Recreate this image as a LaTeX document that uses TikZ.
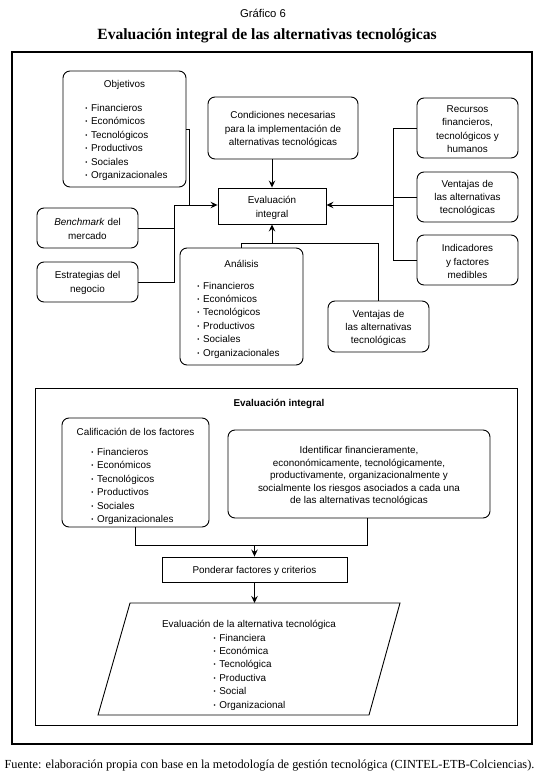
\documentclass[tikz,border=0pt]{standalone}
\usepackage{fontspec}
\setmainfont{Liberation Serif}
\setsansfont{Liberation Sans}
\usetikzlibrary{arrows.meta,calc}
\newcommand{\bu}{\makebox[0.58em][l]{\raisebox{0.1em}{\fontsize{6}{6}\selectfont\textbullet}}}
\tikzset{
  rbox/.style={draw, line width=0.9pt, rounded corners=7pt, inner sep=0pt},
  sbox/.style={draw, line width=0.9pt, inner sep=0pt},
  txt/.style={font=\sffamily\fontsize{9.9}{13.4}\selectfont, align=center, inner sep=0pt},
  txtb/.style={font=\sffamily\fontsize{9.9}{12.5}\selectfont, align=center, inner sep=0pt},
  lst/.style={font=\sffamily\fontsize{9.9}{13.4}\selectfont, align=left, inner sep=0pt},
  con/.style={line width=0.9pt},
  arr/.style={con, -{Stealth[length=7pt,width=6.5pt,inset=2.4pt]}},
}
\begin{document}
\begin{tikzpicture}[x=1pt,y=-1pt]
\useasboundingbox (0,0) rectangle (541,783);
% titles
\node[font=\sffamily\fontsize{11.3}{13}\selectfont, inner sep=0pt] (g6) at (263,13) {Gráfico 6};
\node[font=\rmfamily\bfseries\fontsize{15.6}{18}\selectfont, inner sep=0pt] (ttl) at (267,36) {Evaluación integral de las alternativas tecnológicas};
% outer frame
\node[draw, line width=2.5pt, minimum width=520pt, minimum height=692pt, inner sep=0pt] (outer) at (272,398) {};
% top part boxes
\node[rbox, minimum width=123pt, minimum height=116pt] (obj) at (124.5,129) {};
\node[txt] (objt) at (124.5,85) {Objetivos};
\node[lst] (objl) at (126.5,142.5) {\bu Financieros\\\bu Económicos\\\bu Tecnológicos\\\bu Productivos\\\bu Sociales\\\bu Organizacionales};

\node[rbox, minimum width=150pt, minimum height=62pt] (cond) at (283,128) {};
\node[txt] (condt) at (283,129.5) {Condiciones necesarias\\para la implementación de\\alternativas tecnológicas};

\node[sbox, minimum width=108pt, minimum height=36pt] (eval) at (272,206) {};
\node[txt] (evalt) at (272,208) {Evaluación\\integral};

\node[rbox, minimum width=101pt, minimum height=40pt] (bench) at (87.5,228) {};
\node[txt] (bencht) at (87.5,229) {\textit{Benchmark} del\\mercado};

\node[rbox, minimum width=101pt, minimum height=40pt] (strat) at (87.5,282) {};
\node[txt] (stratt) at (87.5,283) {Estrategias del\\negocio};

\node[rbox, minimum width=101pt, minimum height=60pt] (rec) at (467.5,128) {};
\node[txt] (rect) at (467.5,129) {Recursos\\financieros,\\tecnológicos y\\humanos};

\node[rbox, minimum width=101pt, minimum height=50pt] (venR) at (467.5,197) {};
\node[txt] (venRt) at (467.5,198) {Ventajas de\\las alternativas\\tecnológicas};

\node[rbox, minimum width=101pt, minimum height=50pt] (ind) at (467.5,260) {};
\node[txt] (indt) at (467.5,261.5) {Indicadores\\y factores\\medibles};

\node[rbox, minimum width=123pt, minimum height=117pt] (ana) at (241.5,306.5) {};
\node[txt] (anat) at (241.5,264) {Análisis};
\node[lst] (anal) at (238.5,320) {\bu Financieros\\\bu Económicos\\\bu Tecnológicos\\\bu Productivos\\\bu Sociales\\\bu Organizacionales};

\node[rbox, minimum width=101pt, minimum height=51pt] (venL) at (378.5,326.5) {};
\node[txt] (venLt) at (378.5,328) {Ventajas de\\las alternativas\\tecnológicas};

% top connectors
\coordinate (jL) at (174,205);
\coordinate (jO) at (189,205);
\draw[con] (obj.east) -| (jO);
\draw[con] (bench.east) -| (jL);
\draw[con] (strat.east) -| (jL);
\draw[arr] (jL) -- (jL -| eval.west);
\draw[arr] (eval.north |- cond.south) -- (eval.north);
\coordinate (jR) at (393,205);
\draw[con] (rec.west) -| (jR);
\draw[con] (ind.west) -| (jR);
\draw[con] (venR.west) -- (venR.west -| jR);
\draw[arr] (jR) -- (jR -| eval.east);
\coordinate (jB) at (272,243);
\draw[arr] (jB) -- (eval.south);
\draw[con] (ana.north) |- (jB);
\draw[con] (jB) -| (venL.north);

% inner frame
\node[draw, line width=0.9pt, minimum width=482pt, minimum height=337pt, inner sep=0pt] (inner) at (276,556.5) {};
\node[font=\sffamily\bfseries\fontsize{9.9}{12}\selectfont, inner sep=0pt] (innert) at (279,404) {Evaluación integral};

\node[rbox, minimum width=147pt, minimum height=109pt] (cal) at (135.5,472.5) {};
\node[txt] (calt) at (135.5,432) {Calificación de los factores};
\node[lst] (call) at (132.5,486.5) {\bu Financieros\\\bu Económicos\\\bu Tecnológicos\\\bu Productivos\\\bu Sociales\\\bu Organizacionales};

\node[rbox, minimum width=262pt, minimum height=88pt] (ident) at (359,474) {};
\node[txtb] (identt) at (359,476) {Identificar financieramente,\\econonómicamente, tecnológicamente,\\productivamente, organizacionalmente y\\socialmente los riesgos asociados a cada una\\de las alternativas tecnológicas};

\node[sbox, minimum width=185pt, minimum height=25pt] (pond) at (254.5,569.5) {};
\node[txt] (pondt) at (254.5,570.5) {Ponderar factores y criterios};

\coordinate (jC) at (254.5,545);
\draw[con] (cal.south) |- (jC);
\draw[con] ($(ident.south)+(8,0)$) |- (jC);
\draw[arr] (jC) -- (pond.north);

% parallelogram
\coordinate (pTL) at (130,603);
\coordinate (pTR) at (400,603);
\coordinate (pBR) at (369,715);
\coordinate (pBL) at (98,715);
\draw[con] (pTL) -- (pTR) -- (pBR) -- (pBL) -- cycle;
\coordinate (ptop) at (254.5,603);
\draw[arr] (pond.south) -- (ptop);
\node[txt] (part) at (249,625) {Evaluación de la alternativa tecnológica};
\node[lst] (parl) at (249.5,672) {\bu Financiera\\\bu Económica\\\bu Tecnológica\\\bu Productiva\\\bu Social\\\bu Organizacional};

% footer
\node[font=\rmfamily\fontsize{12.3}{14}\selectfont, inner sep=0pt] (foot) at (269.5,766) {Fuente: elaboración propia con base en la metodología de gestión tecnológica (CINTEL-ETB-Colciencias).};
\end{tikzpicture}
\end{document}
